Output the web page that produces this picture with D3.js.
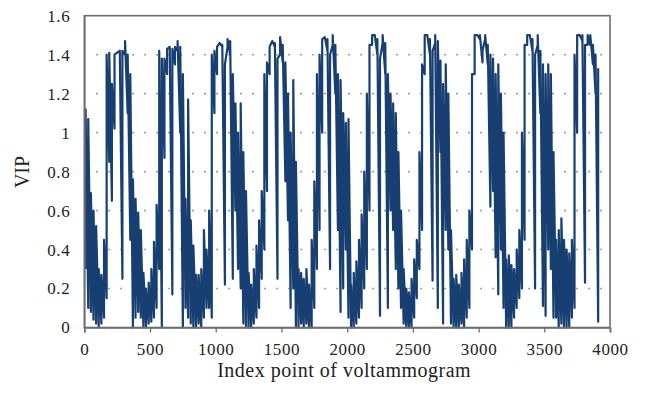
<!DOCTYPE html>
<html>
<head>
<meta charset="utf-8">
<script src="https://cdn.jsdelivr.net/npm/d3@7"></script>
<style>
  body { margin: 0; background: #fff; }
  svg text { font-family: "Liberation Serif", "Times New Roman", serif; fill: #222; }
</style>
</head>
<body>
<svg id="chart" width="646" height="393"></svg>
<script>
// axis ticks
const xTicks = [0, 500, 1000, 1500, 2000, 2500, 3000, 3500, 4000];
const yTicks = [0, 0.2, 0.4, 0.6, 0.8, 1, 1.2, 1.4, 1.6];
const gridTicks = [0.2, 0.4, 0.6, 0.8, 1, 1.2, 1.4];

const blockSize = 20;
const vipLow = [
  0.30, 0.10, 0.08, 0.04, 0.02, 0.00, 0.02, 0.05, 0.15, 0.85,
  0.65, 1.02, 1.41, 1.42, 0.25, 1.40, 1.10, 0.45, 0.00, 0.05,
  0.08, 0.05, 0.00, 0.00, 0.02, 0.03, 0.05, 0.10, 0.30, 0.00,
  0.87, 1.30, 1.44, 0.17, 1.35, 1.42, 1.00, 0.00, 0.10, 0.05,
  0.02, 0.00, 0.00, 0.02, 0.00, 0.05, 0.10, 0.10, 0.05, 1.10,
  1.30, 1.46, 1.44, 0.22, 1.44, 1.40, 0.25, 0.60, 0.30, 0.20,
  0.02, 0.00, 0.00, 0.00, 0.02, 0.05, 0.10, 0.25, 0.40, 0.70,
  1.30, 1.47, 1.44, 0.25, 1.40, 1.36, 0.75, 0.55, 0.10, 0.20,
  0.00, 0.00, 0.02, 0.00, 0.02, 0.00, 0.00, 0.10, 0.30, 0.50,
  1.00, 1.49, 1.42, 0.30, 1.45, 1.20, 0.50, 0.08, 0.20, 0.40,
  0.05, 0.00, 0.00, 0.02, 0.05, 0.10, 0.20, 0.30, 0.60, 1.45,
  1.50, 1.40, 0.06, 1.46, 1.30, 0.10, 0.60, 0.50, 0.30, 0.20,
  0.10, 0.02, 0.00, 0.00, 0.00, 0.05, 0.15, 0.30, 0.50, 1.30,
  1.50, 1.40, 0.24, 1.46, 0.10, 0.90, 0.02, 0.50, 0.40, 0.02,
  0.00, 0.00, 0.00, 0.02, 0.00, 0.05, 0.10, 0.40, 1.30, 1.50,
  1.48, 1.36, 1.48, 1.35, 0.62, 0.70, 0.36, 0.17, 0.40, 0.10,
  0.00, 0.00, 0.00, 0.05, 0.10, 0.15, 0.20, 0.45, 1.45, 1.50,
  1.42, 0.20, 1.45, 1.10, 0.11, 0.06, 0.40, 0.30, 0.05, 0.05,
  0.00, 0.02, 0.00, 0.00, 0.00, 0.05, 0.10, 1.00, 1.50, 1.47,
  0.23, 1.45, 1.45, 1.35, 1.20, 0.03
];
const vipHigh = [
  1.12, 1.07, 0.69, 0.60, 0.52, 0.30, 0.27, 0.45, 1.40, 1.41,
  1.25, 1.40, 1.41, 1.42, 1.42, 1.47, 1.40, 1.30, 0.76, 0.66,
  0.59, 0.50, 0.28, 0.20, 0.23, 0.30, 0.44, 0.63, 1.42, 1.38,
  1.38, 1.43, 1.44, 1.43, 1.44, 1.47, 1.44, 1.30, 0.66, 1.17,
  0.55, 0.42, 0.27, 0.27, 0.30, 0.50, 0.40, 0.60, 1.40, 1.42,
  1.44, 1.46, 1.45, 1.35, 1.48, 1.47, 1.30, 1.15, 1.00, 1.15,
  0.90, 0.70, 0.28, 0.22, 0.30, 0.42, 0.55, 0.70, 1.30, 1.36,
  1.44, 1.47, 1.46, 1.38, 1.49, 1.45, 1.36, 1.20, 1.00, 1.27,
  0.85, 0.30, 0.28, 0.25, 0.30, 0.22, 0.45, 0.75, 1.30, 1.40,
  1.48, 1.49, 1.48, 1.40, 1.50, 1.45, 1.30, 1.27, 1.10, 1.05,
  1.07, 0.22, 0.28, 0.34, 0.45, 0.58, 0.80, 1.20, 1.45, 1.50,
  1.50, 1.48, 1.38, 1.50, 1.46, 1.30, 1.20, 1.15, 1.10, 0.90,
  0.60, 0.30, 0.20, 0.18, 0.25, 0.35, 0.45, 0.90, 1.35, 1.50,
  1.50, 1.48, 1.42, 1.50, 1.47, 1.37, 1.25, 1.35, 1.20, 0.50,
  0.25, 0.27, 0.22, 0.28, 0.35, 0.45, 0.60, 1.30, 1.50, 1.50,
  1.50, 1.42, 1.50, 1.45, 1.40, 1.38, 1.30, 1.35, 1.20, 1.00,
  0.35, 0.37, 0.32, 0.30, 0.40, 0.50, 1.00, 1.45, 1.50, 1.50,
  1.48, 1.40, 1.50, 1.42, 1.35, 1.30, 1.35, 1.30, 0.90, 0.45,
  0.50, 0.56, 0.45, 0.40, 0.38, 0.45, 1.40, 1.50, 1.50, 1.50,
  1.45, 1.50, 1.50, 1.45, 1.40, 1.33
];

const xLabel = "Index point of voltammogram";
const yLabel = "VIP";

const svg = d3.select("#chart");
const margin = { left: 84.3, right: 36, top: 15.7, bottom: 65.5 };
const width = 646 - margin.left - margin.right;
const height = 393 - margin.top - margin.bottom;

const x = d3.scaleLinear().domain([0, 4000]).range([0, width]);
const y = d3.scaleLinear().domain([0, 1.6]).range([height, 0]);

const g = svg.append("g")
    .attr("transform", `translate(${margin.left},${margin.top})`);

// dotted gridlines
g.selectAll("line.grid")
    .data(gridTicks)
    .enter()
    .append("line")
    .attr("class", "grid")
    .attr("x1", 12)
    .attr("x2", width)
    .attr("y1", d => y(d))
    .attr("y2", d => y(d))
    .attr("stroke", "#8a8a8a")
    .attr("stroke-width", 1.6)
    .attr("stroke-dasharray", "1.6,10.4");

// build the trace: each block goes down to its low, up to its high, then on to the next block
const points = [];
vipLow.forEach((lo, i) => {
    const idx = i * blockSize + blockSize / 2;
    points.push([idx, lo]);
    points.push([idx, vipHigh[i]]);
});

const line = d3.line()
    .x(d => x(d[0]))
    .y(d => y(d[1]));

g.append("path")
    .datum(points)
    .attr("fill", "none")
    .attr("stroke", "#173f72")
    .attr("stroke-width", 2.2)
    .attr("stroke-linejoin", "round")
    .attr("d", line);

// frame
g.append("rect")
    .attr("x", 0)
    .attr("y", 0)
    .attr("width", width)
    .attr("height", height)
    .attr("fill", "none")
    .attr("stroke", "#6e6e6e")
    .attr("stroke-width", 1.6);

// x axis
const xAxis = g.append("g")
    .attr("transform", `translate(0,${height})`)
    .call(d3.axisBottom(x).tickValues(xTicks).tickSize(5).tickPadding(10).tickFormat(d3.format("d")));
xAxis.select(".domain").attr("stroke", "#6e6e6e").attr("stroke-width", 1.6);
xAxis.selectAll(".tick line").attr("stroke", "#6e6e6e").attr("stroke-width", 1.3);
xAxis.selectAll(".tick text")
    .attr("font-family", "Liberation Serif, serif")
    .attr("font-size", "17px")
    .attr("letter-spacing", "0.6px")
    .attr("fill", "#222");

// y axis
const yAxis = g.append("g")
    .call(d3.axisLeft(y).tickValues(yTicks).tickSize(0).tickPadding(14).tickFormat(d => d3.format("")(+d.toFixed(1))));
yAxis.select(".domain").attr("stroke", "#6e6e6e").attr("stroke-width", 1.6);
yAxis.selectAll(".tick text")
    .attr("font-family", "Liberation Serif, serif")
    .attr("font-size", "17px")
    .attr("letter-spacing", "0.6px")
    .attr("fill", "#222");

// axis titles
svg.append("text")
    .attr("x", margin.left + width / 2 - 3)
    .attr("y", 376.5)
    .attr("text-anchor", "middle")
    .attr("font-size", "20px")
    .attr("letter-spacing", "0.5px")
    .text(xLabel);

svg.append("text")
    .attr("transform", "translate(29,172) rotate(-90)")
    .attr("text-anchor", "middle")
    .attr("font-size", "20px")
    .text(yLabel);
</script>
</body>
</html>
